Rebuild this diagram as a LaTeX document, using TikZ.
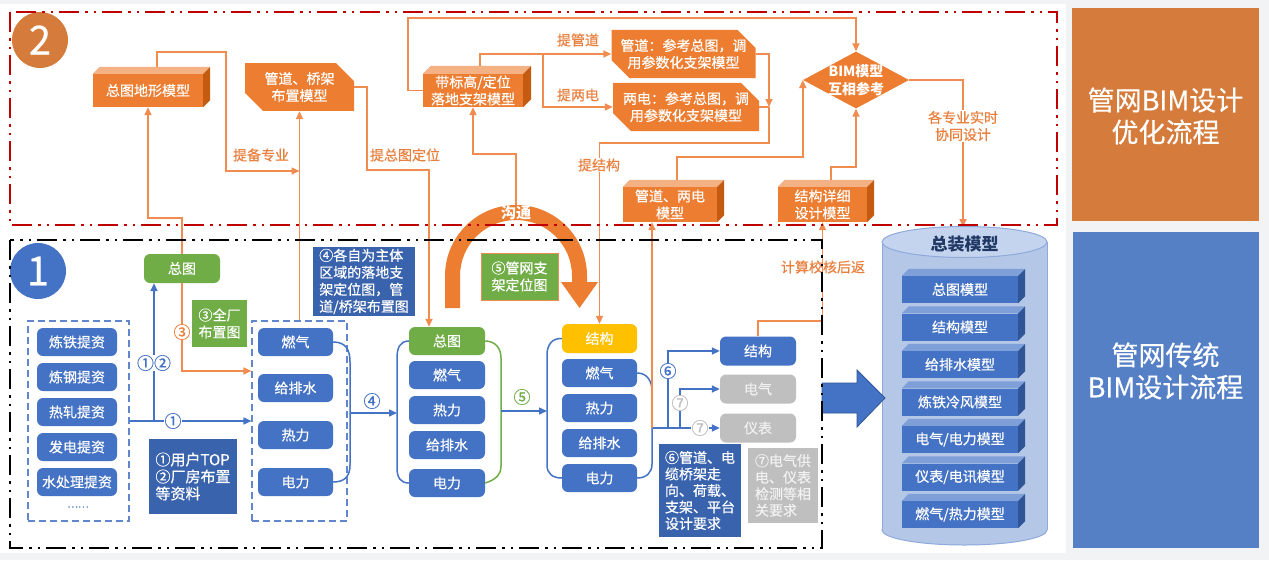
\documentclass[tikz,border=0pt]{standalone}
\usepackage{fontspec}
\setmainfont{Noto Sans CJK SC}[UprightFeatures={FakeBold=0.45}]
\usetikzlibrary{arrows.meta,shapes.geometric,shapes.misc,calc}
\definecolor{mblue}{HTML}{4472C4}
\definecolor{dblue}{HTML}{3A63AE}
\definecolor{mgreen}{HTML}{70AD47}
\definecolor{myellow}{HTML}{FFC000}
\definecolor{mgray}{HTML}{BFBFBF}
\definecolor{morange}{HTML}{ED7D31}
\definecolor{otop}{HTML}{F4B183}
\definecolor{oside}{HTML}{C55A11}
\definecolor{oline}{HTML}{F08C50}
\definecolor{otext}{HTML}{E8813F}
\definecolor{redb}{HTML}{C00000}
\definecolor{panelo}{HTML}{D57B3B}
\definecolor{panelb}{HTML}{5580C6}
\definecolor{cylbody}{HTML}{B4C7E7}
\definecolor{cyltopc}{HTML}{C5D4EE}
\definecolor{cyledge}{HTML}{8EA9DB}
\definecolor{btop}{HTML}{7F9FD8}
\definecolor{bside}{HTML}{2F5597}
\definecolor{bgray}{HTML}{F2F3F5}
\definecolor{navy}{HTML}{203864}
\newcommand{\fsz}[2]{\fontsize{#1}{#2}\selectfont}
\newcommand{\cubeface}[4]{%
  \fill[#3] (#1.north west) -- ++(#2,-#2) -- ($(#1.north east)+(#2,-#2)$) -- (#1.north east) -- cycle;
  \fill[#4] (#1.north east) -- ++(#2,-#2) -- ($(#1.south east)+(#2,-#2)$) -- (#1.south east) -- cycle;}
\tikzset{
  nbase/.style={inner sep=0pt, text=white, font=\fsz{14}{17}, align=center},
  bbox/.style={nbase, rounded corners=6pt, fill=mblue, minimum width=76pt, minimum height=28pt},
  gbox/.style={bbox, fill=mgreen},
  ybox/.style={bbox, fill=myellow},
  greybox/.style={bbox, fill=mgray, text=white!94!black},
  notebox/.style={nbase, fill=dblue, align=left},
  cube/.style={nbase, fill=morange},
  bcube/.style={nbase, fill=mblue, minimum width=116pt, minimum height=27pt},
  snip/.style={nbase, fill=morange, chamfered rectangle, chamfered rectangle corners={north east,south west}, chamfered rectangle xsep=9pt, chamfered rectangle ysep=9pt},
  dgroup/.style={draw=mblue!85, dash pattern=on 7pt off 4pt, line width=1.1pt, inner sep=0pt},
  oarr/.style={draw=oline, line width=1.5pt, -{Triangle[length=8pt,width=7pt]}},
  oln/.style={draw=oline, line width=1.5pt},
  barr/.style={draw=mblue, line width=1.5pt, -{Triangle[length=8pt,width=7pt]}},
  bln/.style={draw=mblue, line width=1.5pt},
  olabel/.style={text=otext, font=\fsz{14}{17}, inner sep=1pt, align=center},
  circ/.style={font=\fsz{17}{17}, inner sep=0.5pt, fill=white},
  border/.style={line width=2.4pt, dash pattern=on 20pt off 6pt on 2.5pt off 6pt on 2.5pt off 6pt},
}
\begin{document}
\begin{tikzpicture}[x=1pt,y=-1pt]
\useasboundingbox (0,0) rectangle (1269,560);
\fill[bgray] (0,0) rectangle (1269,560);
\fill[white] (0,4) rectangle (1066,553);

% right panels
\node[fill=panelo, minimum width=187pt, minimum height=213pt, inner sep=0pt] (panA) at (1165.5,114.5) {};
\node[text=white, font=\fsz{27}{32}, align=center, inner sep=0pt] (panAt) at (1165.5,116) {管网BIM设计\\优化流程};
\node[fill=panelb, minimum width=186pt, minimum height=316pt, inner sep=0pt] (panB) at (1165.5,390) {};
\node[text=white, font=\fsz{27}{32}, align=center, inner sep=0pt] (panBt) at (1165.5,371) {管网传统\\BIM设计流程};

% section badges
\node[circle, fill=panelo, minimum size=56pt, inner sep=0pt, text=white, font=\fsz{40}{40}] (badge2) at (40,40) {2};
\node[circle, fill=mblue, minimum size=56pt, inner sep=0pt, text=white, font=\fsz{40}{40}] (badge1) at (38,271) {1};

% ===== section 1 =====
\node[dgroup, minimum width=101pt, minimum height=200pt] (grpA) at (78.5,421) {};
\node[bbox, minimum width=80pt] (a1) at (77,342) {炼铁提资};
\node[bbox, minimum width=80pt] (a2) at (77,377) {炼钢提资};
\node[bbox, minimum width=80pt] (a3) at (77,412) {热轧提资};
\node[bbox, minimum width=80pt] (a4) at (77,447) {发电提资};
\node[bbox, minimum width=80pt] (a5) at (77,482) {水处理提资};
\node[text=mblue, font=\fsz{10}{10}, inner sep=0pt] (adots) at (78,507) {……};

\node[gbox, minimum height=29pt] (zt1) at (182,268.5) {总图};
\node[nbase, fill=mgreen, minimum width=55pt, minimum height=47pt] (q3) at (219.5,323.5) {③全厂\\布置图};

\node[dgroup, minimum width=95pt, minimum height=200pt] (grpB) at (299.5,421) {};
\node[bbox, minimum width=75pt] (b1) at (295.5,342) {燃气};
\node[bbox, minimum width=75pt] (b2) at (295.5,388) {给排水};
\node[bbox, minimum width=75pt] (b3) at (295.5,435) {热力};
\node[bbox, minimum width=75pt] (b4) at (295.5,482) {电力};

\node[notebox, minimum width=102pt, minimum height=69pt] (n4) at (364,281.5) {④各自为主体\\区域的落地支\\架定位图，管\\道/桥架布置图};
\node[notebox, font=\fsz{15}{17}, minimum width=88pt, minimum height=75pt] (n12) at (193,476.5) {①用户TOP\\②厂房布置\\等资料};

\node[gbox] (c0) at (447,341) {总图};
\node[bbox] (c1) at (447,375) {燃气};
\node[bbox] (c2) at (447,410) {热力};
\node[bbox] (c3) at (447,445) {给排水};
\node[bbox] (c4) at (447,483) {电力};

\node[nbase, fill=mgreen, draw=oline, line width=0.8pt, minimum width=77pt, minimum height=47pt] (n5) at (519.5,276.5) {⑤管网支\\架定位图};

\node[ybox, minimum width=75pt, minimum height=29pt] (d0) at (599.5,338.5) {结构};
\node[bbox, minimum width=75pt] (d1) at (599.5,373) {燃气};
\node[bbox, minimum width=75pt] (d2) at (599.5,408) {热力};
\node[bbox, minimum width=75pt] (d3) at (599.5,443) {给排水};
\node[bbox, minimum width=75pt] (d4) at (599.5,478) {电力};

\node[bbox, minimum height=29pt] (e1) at (758,351) {结构};
\node[greybox, minimum height=29pt] (e2) at (758,389) {电气};
\node[greybox, minimum height=29pt] (e3) at (758,428) {仪表};

\node[notebox, font=\fsz{14}{16.5}, minimum width=82pt, minimum height=93pt] (n6) at (700,490.5) {⑥管道、电\\缆桥架走\\向、荷载、\\支架、平台\\设计要求};
\node[notebox, fill=mgray, text=white!95!black, font=\fsz{14}{16.5}, minimum width=70pt, minimum height=75pt] (n7) at (783,485.5) {⑦电气供\\电、仪表\\检测等相\\关要求};

% U arrow (沟通)
\fill[morange] (445,308) -- (445,276) arc[start angle=180, end angle=0, radius=71pt] -- (587,282) -- (598,282) -- (579.5,308) -- (561,282) -- (572,282) -- (572,276) arc[start angle=0, end angle=180, radius=56pt] -- (460,308) -- cycle;
\node[text=white, font=\bfseries\fsz{15}{15}, inner sep=0pt] (goutong) at (516,213) {沟通};
\coordinate (utop) at (516,205);

% ===== section 2 =====
\node[cube, minimum width=110pt, minimum height=33pt] (topo) at (148,90.5) {总图地形模型};
\cubeface{topo}{7}{otop}{oside}
\node[snip, minimum width=109pt, minimum height=38pt] (pipe) at (299.5,87) {管道、桥架\\布置模型};
\node[cube, minimum width=100pt, minimum height=33pt] (sup) at (473,90.5) {带标高/定位\\落地支架模型};
\cubeface{sup}{8}{otop}{oside}
\node[snip, minimum width=141pt, minimum height=44pt] (gd) at (683.5,54) {管道：参考总图，调\\用参数化支架模型};
\node[snip, minimum width=146pt, minimum height=42pt] (ld) at (686,107) {两电：参考总图，调\\用参数化支架模型};
\node[diamond, fill=morange, minimum width=106pt, minimum height=57pt, inner sep=0pt] (bim) at (856,80) {};
\node[text=white, font=\bfseries\fsz{14}{18}, align=center, inner sep=0pt] (bimt) at (856,80) {BIM模型\\互相参考};
\node[cube, minimum width=94pt, minimum height=35pt] (pm) at (670,204.5) {管道、两电\\模型};
\cubeface{pm}{7}{otop}{oside}
\node[cube, minimum width=89pt, minimum height=35pt] (sm) at (822.5,204.5) {结构详细\\设计模型};
\cubeface{sm}{7}{otop}{oside}

% cylinder
\fill[cylbody] (882,242) rectangle (1047,530);
\draw[cyledge, line width=1pt, fill=cylbody] (964.5,530) ellipse [x radius=82.5pt, y radius=15pt];
\fill[cylbody] (882.5,242) rectangle (1046.5,530);
\draw[cyledge, line width=1pt] (882,242) -- (882,530) (1047,242) -- (1047,530);
\draw[cyledge, line width=1pt, fill=cyltopc] (964.5,242) ellipse [x radius=82.5pt, y radius=15.5pt];
\node[text=navy, font=\bfseries\fsz{17}{17}, inner sep=0pt] (asm) at (964.5,244) {总装模型};
\coordinate (cyltop) at (963,227);
\node[bcube] (m1) at (960,289.5) {总图模型};
\cubeface{m1}{7}{btop}{bside}
\node[bcube] (m2) at (960,327) {结构模型};
\cubeface{m2}{7}{btop}{bside}
\node[bcube] (m3) at (960,364.5) {给排水模型};
\cubeface{m3}{7}{btop}{bside}
\node[bcube] (m4) at (960,402) {炼铁冷风模型};
\cubeface{m4}{7}{btop}{bside}
\node[bcube] (m5) at (960,439.5) {电气/电力模型};
\cubeface{m5}{7}{btop}{bside}
\node[bcube] (m6) at (960,477) {仪表/电讯模型};
\cubeface{m6}{7}{btop}{bside}
\node[bcube] (m7) at (960,514.5) {燃气/热力模型};
\cubeface{m7}{7}{btop}{bside}

% big blue arrow
\draw[fill=mblue, draw=bside, line width=0.8pt] (822,383) -- (857,383) -- (857,370) -- (885,398) -- (857,427) -- (857,413) -- (822,413) -- cycle;

% ===== blue connectors =====
\coordinate (brA) at (154,421);
\draw[barr] (grpA.east) -- (grpB.west);
\draw[barr] (brA) -- (zt1.south -| brA);
\draw[bln] (b1.east) .. controls (346,342) and (350,350) .. (350,362) -- (350,465) .. controls (350,476) and (345,482) .. (b4.east);
\coordinate (bR) at (350,413);
\coordinate (cL) at (397,413);
\draw[barr] (bR) -- (cL);
\draw[bln] (c0.west) .. controls (400,341) and (397,348) .. (397,358) -- (397,468) .. controls (397,478) and (401,483) .. (c4.west);
\draw[draw=mgreen, line width=1.5pt] (c0.east) .. controls (495,341) and (501,348) .. (501,358) -- (501,466) .. controls (501,475) and (495,480) .. (c4.east);
\coordinate (cR) at (501,411);
\coordinate (dL) at (547,411);
\draw[barr] (cR) -- (dL);
\draw[bln] (d0.west) .. controls (552,338) and (547,345) .. (547,355) -- (547,465) .. controls (547,474) and (553,478) .. (d4.west);
\draw[bln] (d1.east) .. controls (647,373) and (652,381) .. (652,391) -- (652,464) .. controls (652,472) and (647,478) .. (d4.east);
\coordinate (jd) at (652,428);
\coordinate (j6) at (668,428);
\coordinate (j7) at (680,428);
\draw[barr] (jd) -- (e3.west);
\draw[barr] (j6) |- (e1.west);
\draw[barr] (j7) |- (e2.west);

% ===== orange connectors =====
\draw[oarr] ([xshift=9pt,yshift=7pt]topo.north) |- (226,52) |- (pipe.south |- 0,171);
\draw[oarr] (zt1.north) |- (topo.south |- 0,218) -- (topo.south);
\draw[oarr] (zt1.south) |- (grpB.west |- 0,371);
\draw[oarr] (grpB.north) -- (pipe.south);
\draw[oarr] (pipe.east) -| (367,170) -| ([xshift=-18pt]c0.north);
\draw[oarr] (utop) |- (sup.south |- 0,154) -- (sup.south);
\coordinate (jsup) at (543,54);
\draw[oarr] ([xshift=7pt,yshift=8pt]sup.north) |- (gd.west);
\draw[oarr] (jsup) |- (ld.west);
\draw[oarr] (sup.west) -| (408,18) -| (bim.north);
\coordinate (jg) at (769,107);
\draw[oarr] (gd.east) -| (jg);
\draw[oln] (ld.east) -- (jg);
\draw[oarr] (jg) |- (d0.north |- 0,143) -- (d0.north);
\draw[oarr] (jd) -- (pm.south -| jd);
\draw[oarr] ([xshift=7pt,yshift=7pt]pm.north) |- (bim.west |- 0,157) -- (bim.west);
\draw[oarr] ([xshift=8.5pt,yshift=7pt]sm.north) |- (bim.south |- 0,167) -- (bim.south);
\draw[oarr] (bim.east) -| (cyltop);
\draw[oarr] (e1.north) |- (sm.south |- 0,321) -- (sm.south);

% orange labels
\node[olabel] (l1) at (261,155) {提备专业};
\node[olabel] (l2) at (405,155) {提总图定位};
\node[olabel] (l3) at (578,40) {提管道};
\node[olabel] (l4) at (578,95) {提两电};
\node[olabel, fill=white] (l5) at (599,165) {提结构};
\node[olabel, fill=white, font=\fsz{14}{17}] (l6) at (963,126) {各专业实时\\协同设计};
\node[olabel] (l7) at (823,267) {计算校核后返};

% circled labels
\node[circ, text=otext] (k3) at (182,332) {③};
\node[circ, text=mblue] (k1) at (173,421) {①};
\node[circ, text=mblue] (k12) at (154,363) {①②};
\node[circ, text=mblue] (k4) at (372,401) {④};
\node[circ, text=mgreen] (k5) at (522,397) {⑤};
\node[circ, text=mblue] (k6) at (668,371) {⑥};
\node[circ, text=mgray] (k7a) at (680,403) {⑦};
\node[circ, text=mgray] (k7b) at (700,428) {⑦};

% borders
\draw[border, draw=redb] (10,12) rectangle (1057,225);
\draw[border, draw=black] (10,240) rectangle (822,548);
\end{tikzpicture}
\end{document}
